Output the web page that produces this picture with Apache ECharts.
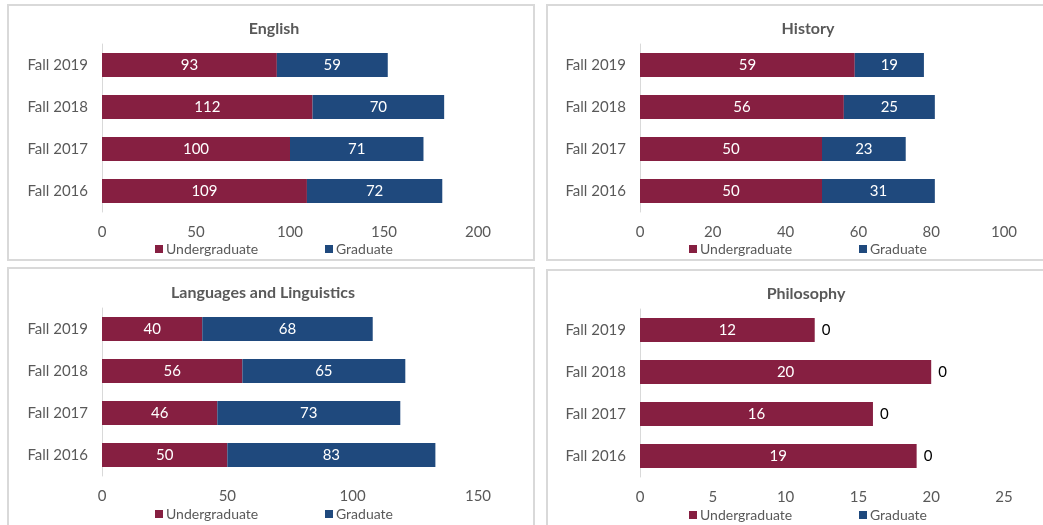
<!DOCTYPE html>
<html>
<head>
<meta charset="utf-8">
<script src="https://cdn.jsdelivr.net/npm/echarts@6/dist/echarts.min.js"></script>
<style>
  html, body { margin: 0; padding: 0; background: #fff; }
  #chart { width: 1043px; height: 525px; }
</style>
</head>
<body>
<div id="chart"></div>
<script>
var terms = ["Fall 2016", "Fall 2017", "Fall 2018", "Fall 2019"];

var englishUndergrad = [109, 100, 112, 93];
var englishGrad = [72, 71, 70, 59];
var historyUndergrad = [50, 50, 56, 59];
var historyGrad = [31, 23, 25, 19];
var languagesUndergrad = [50, 46, 56, 40];
var languagesGrad = [83, 73, 65, 68];
var philosophyUndergrad = [19, 16, 20, 12];
var philosophyGrad = [0, 0, 0, 0];

var maroon = "#861F41";
var navy = "#1F497D";
var grey = "#595959";
var font = "Lato, 'Open Sans', sans-serif";

// one entry per panel: where it sits on the page and how its axis runs
var panels = [
  { title: "English", under: englishUndergrad, grad: englishGrad, max: 200, step: 50,
    box: [8, 5, 526, 255], grid: [102, 44, 376, 168], titleX: 269, titleY: 16, legendY: 242, legendX: [155, 325] },
  { title: "History", under: historyUndergrad, grad: historyGrad, max: 100, step: 20,
    box: [547, 5, 520, 255], grid: [640, 44, 364, 168], titleX: 803, titleY: 16, legendY: 242, legendX: [689, 859] },
  { title: "Languages and Linguistics", under: languagesUndergrad, grad: languagesGrad, max: 150, step: 50,
    box: [8, 268, 526, 270], grid: [102, 308, 376, 168], titleX: 258, titleY: 280, legendY: 507, legendX: [155, 325] },
  { title: "Philosophy", under: philosophyUndergrad, grad: philosophyGrad, max: 25, step: 5,
    box: [547, 270, 520, 270], grid: [640, 309, 364, 168], titleX: 801, titleY: 281, legendY: 508, legendX: [689, 859], outsideZero: true }
];

var option = {
  animation: false,
  backgroundColor: "#fff",
  textStyle: { fontFamily: font },
  title: [], grid: [], xAxis: [], yAxis: [], series: [], legend: [], graphic: []
};

panels.forEach(function (p, i) {
  option.graphic.push({
    type: "rect", silent: true, z: -1,
    shape: { x: p.box[0], y: p.box[1], width: p.box[2], height: p.box[3] },
    style: { fill: "none", stroke: "#D9D9D9", lineWidth: 2 }
  });
  option.title.push({
    text: p.title, left: p.titleX, top: p.titleY, textAlign: "center",
    textStyle: { fontFamily: font, fontSize: 16, fontWeight: "bold", color: grey }
  });
  option.grid.push({ left: p.grid[0], top: p.grid[1], width: p.grid[2], height: p.grid[3] });
  option.xAxis.push({
    type: "value", gridIndex: i, min: 0, max: p.max, interval: p.step,
    axisLine: { show: false }, axisTick: { show: false }, splitLine: { show: false },
    axisLabel: { color: grey, fontSize: 15, margin: 13, fontFamily: font }
  });
  option.yAxis.push({
    type: "category", gridIndex: i, data: terms,
    axisLine: { show: true, lineStyle: { color: "#D9D9D9", width: 1 } },
    axisTick: { show: false },
    axisLabel: { color: grey, fontSize: 15, margin: 14, fontFamily: font }
  });
  option.series.push({
    name: "Undergraduate", type: "bar", stack: "s" + i, xAxisIndex: i, yAxisIndex: i,
    data: p.under, barWidth: 24, itemStyle: { color: maroon },
    label: { show: true, position: "inside", color: "#fff", fontSize: 15, fontFamily: font }
  });
  option.series.push({
    name: "Graduate", type: "bar", stack: "s" + i, xAxisIndex: i, yAxisIndex: i,
    data: p.grad, barWidth: 24, itemStyle: { color: navy },
    label: p.outsideZero
      ? { show: true, position: "right", distance: 7, color: "#000", fontSize: 15, fontFamily: font }
      : { show: true, position: "inside", color: "#fff", fontSize: 15, fontFamily: font }
  });
  ["Undergraduate", "Graduate"].forEach(function (name, k) {
    option.legend.push({
      data: [name], left: p.legendX[k], top: p.legendY, padding: 0,
      icon: "rect", itemWidth: 8, itemHeight: 8, itemGap: 0, selectedMode: false,
      textStyle: { color: grey, fontSize: 14, fontFamily: font, padding: [0, 0, 0, -2] }
    });
  });
});

var myChart = echarts.init(document.getElementById("chart"));
myChart.setOption(option);
</script>
</body>
</html>
